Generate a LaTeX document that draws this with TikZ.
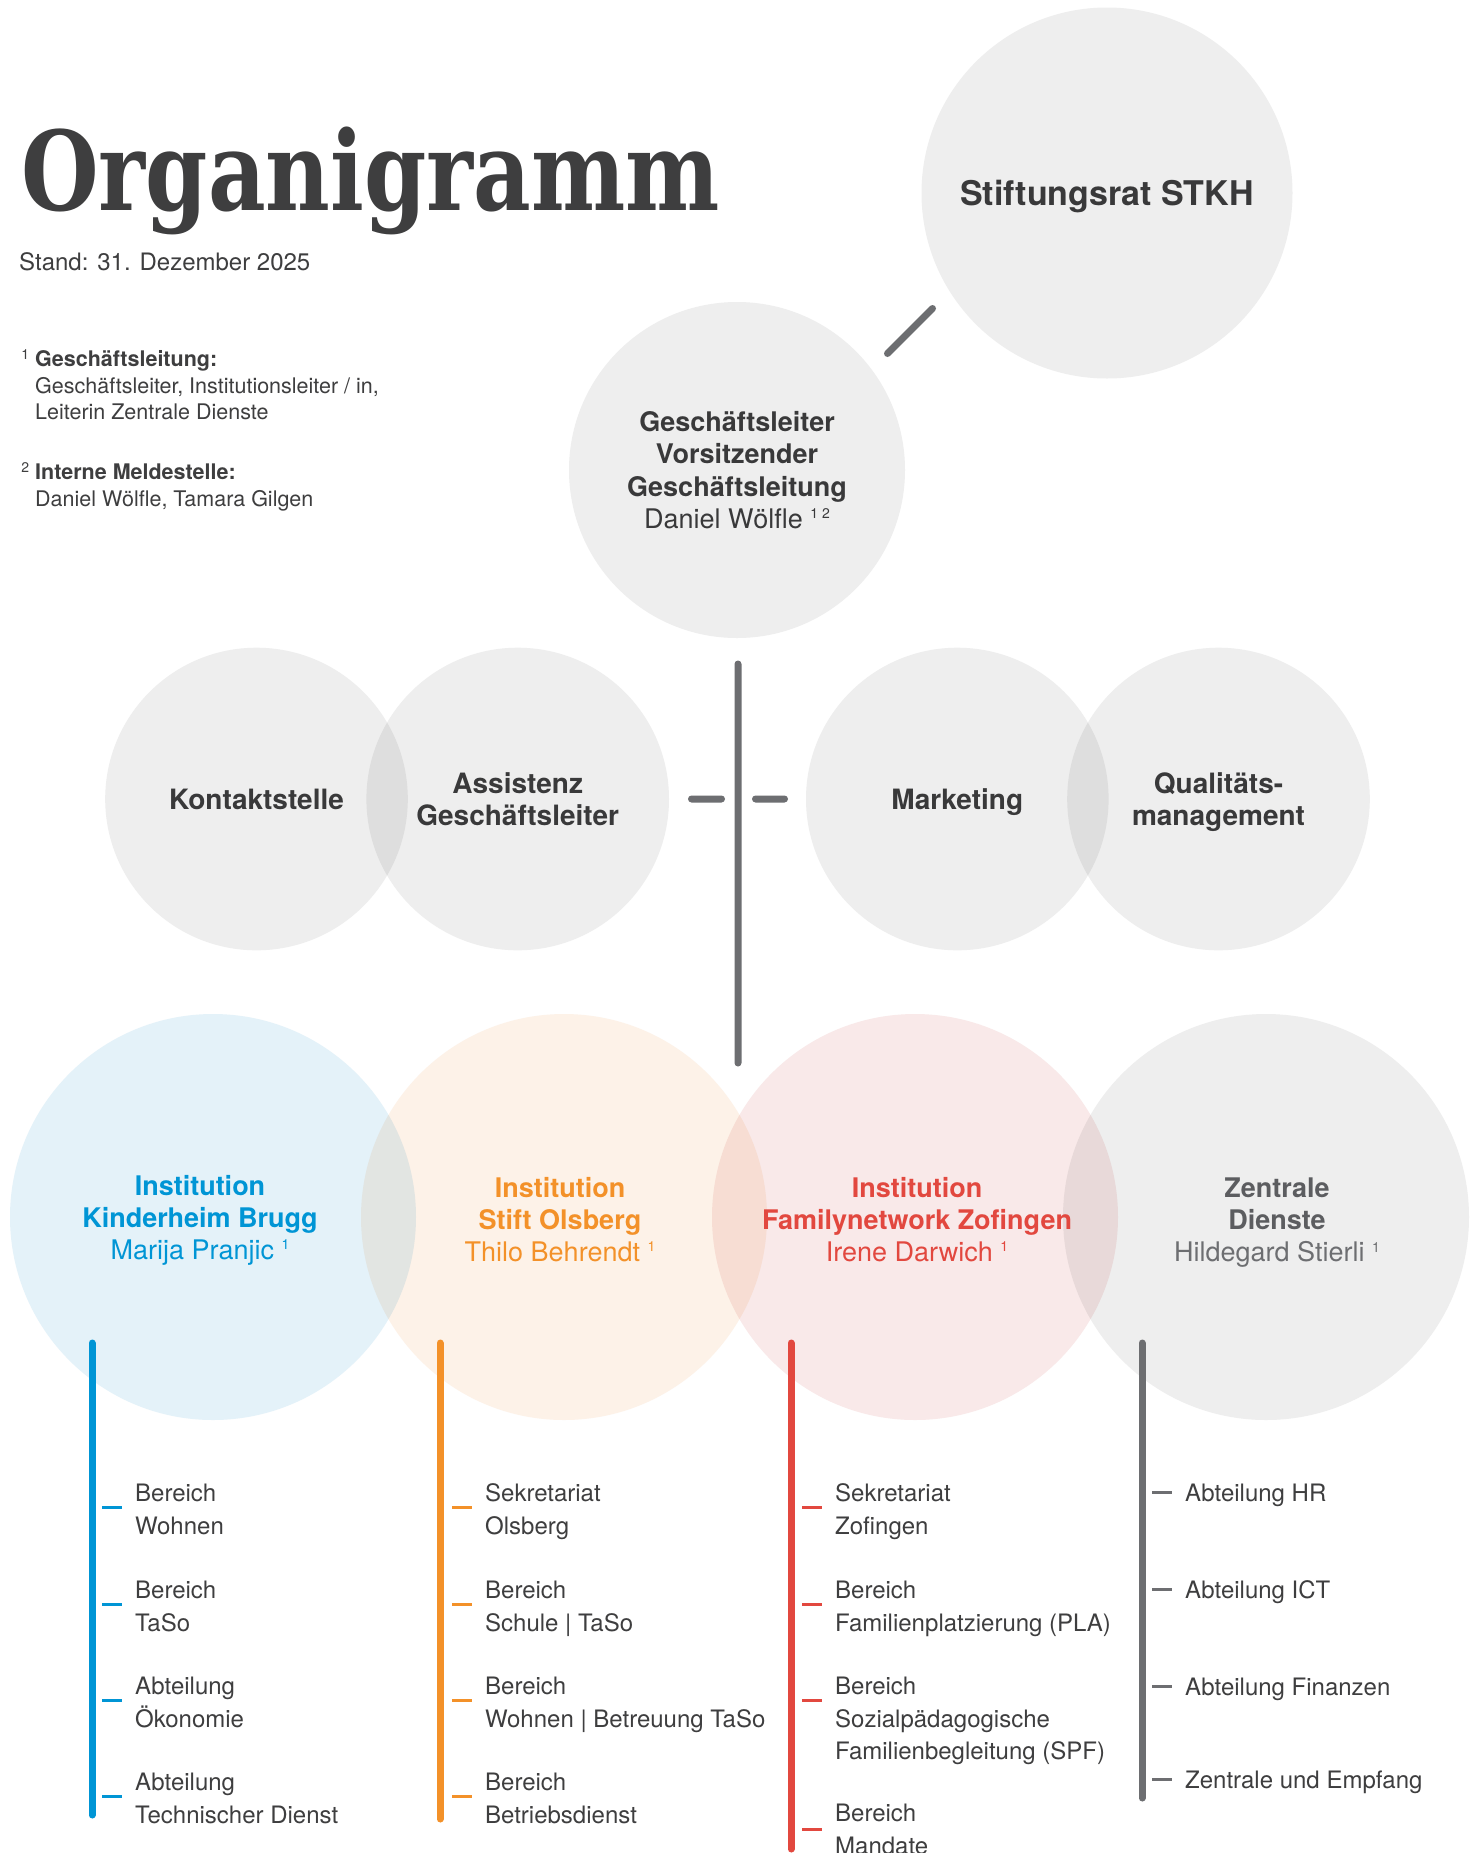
\documentclass[tikz,border=0pt]{standalone}
\usepackage{fontspec}
\setmainfont{TeX Gyre Heros}
\newfontfamily\slabfont[FakeStretch=0.81]{DejaVu Serif}
\usepackage{xcolor}
\usetikzlibrary{calc}

\definecolor{ink}{HTML}{3E3E3F}
\definecolor{linegray}{HTML}{6D6E71}
\definecolor{zdgray}{HTML}{5C5D60}
\definecolor{kbblue}{HTML}{0095D5}
\definecolor{soorange}{HTML}{F39129}
\definecolor{fzred}{HTML}{E2483F}
\definecolor{fillgray}{HTML}{EEEEEE}
\definecolor{fillblue}{HTML}{E4F2F9}
\definecolor{fillorange}{HTML}{FDF2E8}
\definecolor{fillred}{HTML}{F9E9E9}

\newcommand{\fnmark}[1]{\ \raisebox{0.36em}{\fontsize{14}{14}\selectfont #1}}
\newcommand{\notemark}[1]{\llap{\raisebox{7pt}{\fontsize{14}{14}\selectfont #1}\hspace{6pt}}}
\newcommand{\nodepth}[1]{\raisebox{0pt}[\height][0pt]{#1}}

\tikzset{
  disc/.style={circle,fill=fillgray,inner sep=0pt,minimum size=302.6pt,text=ink,align=center,font=\fontsize{28}{32}\selectfont},
  inst/.style={circle,inner sep=0pt,minimum size=406pt},
  insttext/.style={align=center,inner sep=0pt,yshift=-3.5pt,font=\fontsize{27}{32}\selectfont},
  bar/.style={line width=7pt,line cap=round},
  tick/.style={line width=3pt},
  item/.style={anchor=north west,inner sep=0pt,align=left,text=ink,font=\fontsize{24}{32.5}\selectfont},
  note/.style={anchor=north west,inner sep=0pt,align=left,text=ink,font=\fontsize{21.5}{26.5}\selectfont}
}

\begin{document}
\begin{tikzpicture}[x=1pt,y=-1pt]
            \useasboundingbox[fill=white] (0,0) rectangle (1475,1853);

            \node (title) at (21,210) [anchor=base west,inner sep=0pt,text=ink,font=\slabfont\bfseries\fontsize{110}{110}\selectfont] {Organigramm};
            \node (stand) at (19,270) [anchor=base west,inner sep=0pt,text=ink,font=\fontsize{24}{28}\selectfont] {Stand: 31. Dezember 2025};
            \node (fn1) at (35,348) [note] {\strut\notemark{1}\textbf{Geschäftsleitung:}\\Geschäftsleiter, Institutionsleiter / in,\\Leiterin Zentrale Dienste};
            \node (fn2) at (35,461) [note] {\strut\notemark{2}\textbf{Interne Meldestelle:}\\Daniel Wölfle, Tamara Gilgen};

            \begin{scope}[blend group=multiply]
            \node (stkh) at (1107,193) [disc,minimum size=371pt,font=\fontsize{34}{40}\selectfont] {\nodepth{\textbf{Stiftungsrat STKH}}};
            \node (gl) at (737,470) [disc,minimum size=336pt,font=\fontsize{27}{32.5}\selectfont] {\textbf{Geschäftsleiter}\\\textbf{Vorsitzender}\\\textbf{Geschäftsleitung}\\Daniel Wölfle\fnmark{1 2}};
            \node (ks) at (256.5,799) [disc] {\textbf{Kontaktstelle}};
            \node (as) at (517.7,799) [disc] {\textbf{Assistenz}\\\textbf{Geschäftsleiter}};
            \node (mk) at (957.3,799) [disc] {\nodepth{\textbf{Marketing}}};
            \node (qm) at (1218.5,799) [disc] {\textbf{Qualitäts-}\\\nodepth{\textbf{management}}};
            \node (kb) at (213,1217) [inst,fill=fillblue] {};
            \node (so) at (564,1217) [inst,fill=fillorange] {};
            \node (fz) at (915,1217) [inst,fill=fillred] {};
            \node (zd) at (1266,1217) [inst,fill=fillgray] {};
            \end{scope}

            \node (kbtext) at ($(kb)+(-13,0)$) [insttext,text=kbblue] {\textbf{Institution}\\\textbf{Kinderheim Brugg}\\Marija Pranjic\fnmark{1}};
            \node (sotext) at ($(so)+(-4,-1)$) [insttext,text=soorange] {\textbf{Institution}\\\textbf{Stift Olsberg}\\Thilo Behrendt\fnmark{1}};
            \node (fztext) at ($(fz)+(2,-1)$) [insttext,text=fzred] {\textbf{Institution}\\\textbf{Familynetwork Zofingen}\\Irene Darwich\fnmark{1}};
            \node (zdtext) at ($(zd)+(11,2.5)$) [insttext,text=zdgray] {\textbf{Zentrale}\\\textbf{Dienste}\\{\color{linegray}Hildegard Stierli\fnmark{1}}};

            \coordinate (d1) at (887.5,353.5);
            \coordinate (d2) at (932.5,308.5);
            \coordinate (stemtop) at (738,664);
            \coordinate (stembot) at (738,1063);
            \coordinate (l1) at (691.5,799);
            \coordinate (l2) at (721.5,799);
            \coordinate (r1) at (755.5,799);
            \coordinate (r2) at (784.5,799);
            \draw[bar,linegray] (d1) -- (d2) (stemtop) -- (stembot) (l1) -- (l2) (r1) -- (r2);

            \node (kb1) at (135,1479) [item] {\strut Bereich\\Wohnen};
            \node (kb2) at (135,1576) [item] {\strut Bereich\\TaSo};
            \node (kb3) at (135,1672) [item] {\strut Abteilung\\Ökonomie};
            \node (kb4) at (135,1768) [item] {\strut Abteilung\\Technischer Dienst};
            \node (so1) at (485,1479) [item] {\strut Sekretariat\\Olsberg};
            \node (so2) at (485,1576) [item] {\strut Bereich\\Schule | TaSo};
            \node (so3) at (485,1672) [item] {\strut Bereich\\Wohnen | Betreuung TaSo};
            \node (so4) at (485,1768) [item] {\strut Bereich\\Betriebsdienst};
            \node (fz1) at (835,1479) [item] {\strut Sekretariat\\Zofingen};
            \node (fz2) at (835,1576) [item] {\strut Bereich\\Familienplatzierung (PLA)};
            \node (fz3) at (835,1672) [item] {\strut Bereich\\Sozialpädagogische\\Familienbegleitung (SPF)};
            \node (fz4) at (835,1799) [item] {\strut Bereich\\Mandate};
            \node (zd1) at (1185,1479) [item] {\strut Abteilung HR};
            \node (zd2) at (1185,1576) [item] {\strut Abteilung ICT};
            \node (zd3) at (1185,1673) [item] {\strut Abteilung Finanzen};
            \node (zd4) at (1185,1766) [item] {\strut Zentrale und Empfang};

            \coordinate (kbtop) at (92,1343);
            \coordinate (kbbot) at (92,1815);
            \coordinate (sotop) at (440,1343);
            \coordinate (sobot) at (440,1819);
            \coordinate (fztop) at (791,1343);
            \coordinate (fzbot) at (791,1849);
            \coordinate (zdtop) at (1142,1343);
            \coordinate (zdbot) at (1142,1798);
            \draw[bar,kbblue] (kbtop) -- (kbbot);
            \draw[bar,soorange] (sotop) -- (sobot);
            \draw[bar,fzred] (fztop) -- (fzbot);
            \draw[bar,linegray] (zdtop) -- (zdbot);

            \draw[tick,kbblue] ($(kb1.north west)+(-33,28)$) -- ($(kb1.north west)+(-13,28)$) ($(kb2.north west)+(-33,28)$) -- ($(kb2.north west)+(-13,28)$) ($(kb3.north west)+(-33,28)$) -- ($(kb3.north west)+(-13,28)$) ($(kb4.north west)+(-33,28)$) -- ($(kb4.north west)+(-13,28)$);
            \draw[tick,soorange] ($(so1.north west)+(-33,28)$) -- ($(so1.north west)+(-13,28)$) ($(so2.north west)+(-33,28)$) -- ($(so2.north west)+(-13,28)$) ($(so3.north west)+(-33,28)$) -- ($(so3.north west)+(-13,28)$) ($(so4.north west)+(-33,28)$) -- ($(so4.north west)+(-13,28)$);
            \draw[tick,fzred] ($(fz1.north west)+(-33,28)$) -- ($(fz1.north west)+(-13,28)$) ($(fz2.north west)+(-33,28)$) -- ($(fz2.north west)+(-13,28)$) ($(fz3.north west)+(-33,28)$) -- ($(fz3.north west)+(-13,28)$) ($(fz4.north west)+(-33,30)$) -- ($(fz4.north west)+(-13,30)$);
            \draw[tick,linegray] ($(zd1.north west)+(-33,13)$) -- ($(zd1.north west)+(-13,13)$) ($(zd2.north west)+(-33,13)$) -- ($(zd2.north west)+(-13,13)$) ($(zd3.north west)+(-33,13)$) -- ($(zd3.north west)+(-13,13)$) ($(zd4.north west)+(-33,13)$) -- ($(zd4.north west)+(-13,13)$);
        \end{tikzpicture}
\end{document}
